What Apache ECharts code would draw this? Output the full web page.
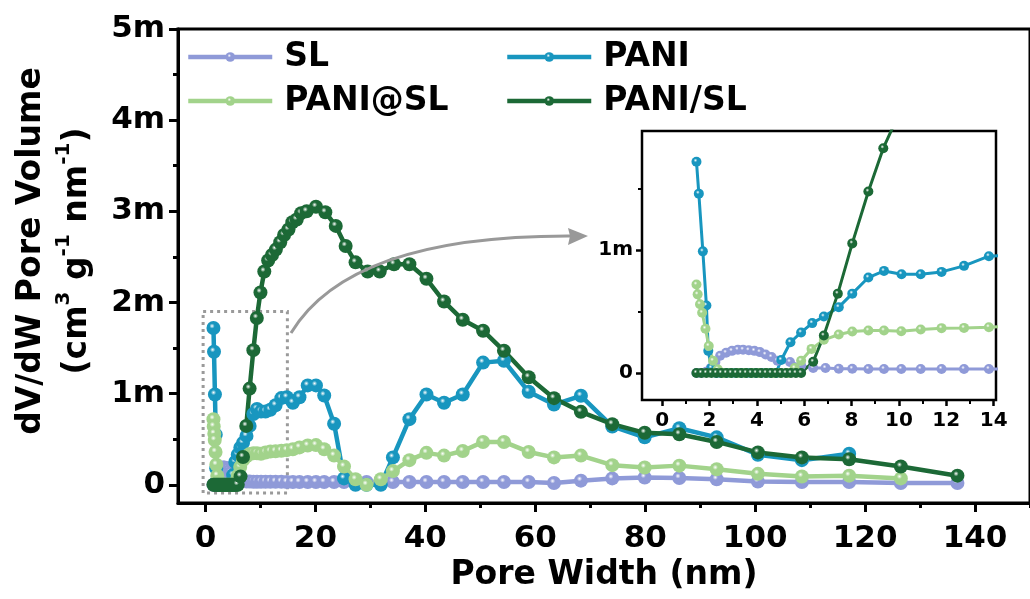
<!DOCTYPE html>
<html>
<head>
<meta charset="utf-8">
<script src="https://cdn.jsdelivr.net/npm/echarts@6/dist/echarts.min.js"></script>
<style>
  html, body { margin: 0; padding: 0; background: #fff; }
  #chart { width: 1030px; height: 599px; }
</style>
</head>
<body>
<div id="chart"></div>
<script>
// pore width (nm) and dV/dW (x1e-3 cm3 g-1 nm-1) for each sample
const slWidth = [1.45, 1.65, 1.86, 2.05, 2.25, 2.45, 2.7, 2.95, 3.2, 3.42, 3.66, 3.9, 4.13, 4.37, 4.62,
  4.87, 5.4, 5.87, 6.38, 6.9, 7.46, 8.03, 8.71, 9.37, 10.1, 10.92, 11.8, 12.75, 13.8, 14.8,
  15.9, 17.1, 18.6, 20.1, 21.6, 23.4, 25.2, 27.3, 29.3, 31.9, 34.1, 37.1, 40.2, 43.4, 46.8,
  50.5, 54.3, 58.8, 63.4, 68.3, 74.0, 79.9, 86.2, 93.0, 100.5, 108.5, 117.1, 126.5, 136.8];
const slVolume = [0, 0, 0.01, 0.04, 0.09, 0.14, 0.165, 0.18, 0.19, 0.19, 0.185, 0.18, 0.17, 0.15, 0.13,
  0.10, 0.09, 0.06, 0.04, 0.04, 0.035, 0.035, 0.033, 0.033, 0.033, 0.033, 0.033, 0.033, 0.033, 0.03,
  0.03, 0.03, 0.03, 0.03, 0.03, 0.03, 0.03, 0.03, 0.03, 0.03, 0.03, 0.03, 0.03, 0.03, 0.03,
  0.03, 0.03, 0.03, 0.02, 0.045, 0.07, 0.08, 0.075, 0.06, 0.035, 0.03, 0.03, 0.02, 0.02];

const paniWidth = [1.45, 1.55, 1.72, 1.87, 1.95, 2.08, 2.29, 2.5, 2.71, 2.92, 3.13, 3.34, 3.55, 3.76, 3.97,
  4.18, 4.39, 4.6, 4.81, 5.03, 5.42, 5.87, 6.34, 6.83, 7.46, 8.03, 8.71, 9.37, 10.11, 10.92,
  11.8, 12.75, 13.8, 14.8, 15.9, 17.1, 18.6, 20.1, 21.6, 23.4, 25.2, 27.3, 29.3, 31.9, 34.1,
  37.1, 40.2, 43.4, 46.8, 50.5, 54.3, 58.8, 63.4, 68.3, 74.0, 79.9, 86.2, 93.0, 100.5, 108.5, 117.1];
const paniVolume = [1.72, 1.46, 0.99, 0.55, 0.18, 0.04, 0, 0, 0, 0, 0, 0, 0, 0, 0,
  0, 0, 0, 0, 0.106, 0.25, 0.33, 0.406, 0.46, 0.536, 0.646, 0.777, 0.831, 0.804, 0.804,
  0.823, 0.872, 0.951, 0.96, 0.9, 0.96, 1.09, 1.09, 0.98, 0.67, 0.07, 0, 0, 0, 0.30,
  0.72, 0.99, 0.90, 0.99, 1.34, 1.36, 1.02, 0.88, 0.976, 0.64, 0.52, 0.62, 0.52, 0.33, 0.27, 0.34];

const paniAtSlWidth = [1.45, 1.5, 1.6, 1.69, 1.83, 1.97, 2.15, 2.35, 2.6, 2.9, 3.2, 3.5, 3.8, 4.1, 4.4,
  4.7, 5.0, 5.3, 5.6, 5.87, 6.31, 6.83, 7.46, 8.03, 8.71, 9.37, 10.1, 10.92, 11.8, 12.75,
  13.8, 14.8, 15.9, 17.1, 18.6, 20.1, 21.6, 23.4, 25.2, 27.3, 29.3, 31.9, 34.1, 37.1, 40.2,
  43.4, 46.8, 50.5, 54.3, 58.8, 63.4, 68.3, 74.0, 79.9, 86.2, 93.0, 100.5, 108.5, 117.1, 126.5];
const paniAtSlVolume = [0.72, 0.64, 0.56, 0.49, 0.36, 0.22, 0.10, 0.03, 0, 0, 0, 0, 0, 0, 0,
  0, 0, 0, 0.04, 0.10, 0.196, 0.27, 0.313, 0.338, 0.346, 0.346, 0.34, 0.354, 0.365, 0.367,
  0.373, 0.38, 0.39, 0.41, 0.43, 0.435, 0.39, 0.32, 0.20, 0.06, 0, 0.06, 0.15, 0.27, 0.35,
  0.32, 0.37, 0.47, 0.47, 0.36, 0.30, 0.32, 0.215, 0.19, 0.21, 0.17, 0.12, 0.09, 0.10, 0.07];

const paniSlWidth = [1.45, 1.66, 1.87, 2.08, 2.29, 2.5, 2.71, 2.92, 3.13, 3.34, 3.55, 3.76, 3.97, 4.18, 4.39,
  4.6, 4.81, 5.02, 5.23, 5.44, 5.65, 5.87, 6.38, 6.83, 7.42, 8.03, 8.71, 9.34, 10.0, 10.7,
  11.4, 12.1, 12.8, 13.6, 14.3, 15.1, 15.8, 16.6, 17.4, 18.4, 20.1, 21.8, 23.7, 25.5, 27.3,
  29.5, 31.7, 34.3, 37.1, 40.2, 43.4, 46.8, 50.5, 54.3, 58.8, 63.4, 68.3, 74.0, 79.9, 86.2,
  93.0, 100.5, 108.5, 117.1, 126.5, 136.8];
const paniSlVolume = [0, 0, 0, 0, 0, 0, 0, 0, 0, 0, 0, 0, 0, 0, 0,
  0, 0, 0, 0, 0, 0, 0, 0.092, 0.305, 0.646, 1.055, 1.477, 1.83, 2.11, 2.34,
  2.46, 2.52, 2.58, 2.66, 2.74, 2.80, 2.88, 2.91, 2.98, 3.00, 3.05, 2.99, 2.84, 2.62, 2.44,
  2.34, 2.34, 2.42, 2.42, 2.26, 2.01, 1.81, 1.69, 1.47, 1.18, 0.95, 0.80, 0.665, 0.57, 0.555,
  0.47, 0.355, 0.30, 0.28, 0.20, 0.10];

// ticks
const mainXTicks = [0, 20, 40, 60, 80, 100, 120, 140];
const mainXMinor = [10, 30, 50, 70, 90, 110, 130, 150];
const mainYTicks = [0, 1, 2, 3, 4, 5];
const mainYMinor = [0.5, 1.5, 2.5, 3.5, 4.5];
const insetXTicks = [0, 2, 4, 6, 8, 10, 12, 14];
const insetXMinor = [1, 3, 5, 7, 9, 11, 13];
const insetYTicks = [0, 1];
const insetYMinor = [0.5, 1.5];

// zoomed region marked in the main plot [x, y] corners
const zoomBox = [[-0.43, 1.9], [14.9, -0.09]];

const samples = [
  {name: 'SL', color: '#8f9ad8', width: slWidth, volume: slVolume},
  {name: 'PANI', color: '#1896bf', width: paniWidth, volume: paniVolume},
  {name: 'PANI@SL', color: '#a2d38b', width: paniAtSlWidth, volume: paniAtSlVolume},
  {name: 'PANI/SL', color: '#1c6936', width: paniSlWidth, volume: paniSlVolume}
];

const chart = echarts.init(document.getElementById('chart'));
const font = 'DejaVu Sans';

const ball = (c) => new echarts.graphic.RadialGradient(0.4, 0.36, 0.62, [
  {offset: 0, color: '#ffffff'},
  {offset: 0.3, color: c},
  {offset: 1, color: c}
]);

const mlabel = v => (v === 0 ? '0' : v + 'm');

// extra axis that only draws the short minor ticks
const tickAxis = (values, len, width, extra) => Object.assign({
  type: 'value',
  axisLine: {show: false, onZero: false},
  axisTick: {show: true, customValues: values, length: len, lineStyle: {color: '#000', width: width}},
  axisLabel: {show: false},
  splitLine: {show: false}
}, extra);

const series = [];
samples.forEach(s => {
  const pts = s.width.map((w, i) => [w, s.volume[i]]);
  series.push({
    name: s.name, type: 'line', xAxisIndex: 0, yAxisIndex: 0,
    data: pts, symbol: 'circle', symbolSize: 14,
    lineStyle: {color: s.color, width: 4.5},
    itemStyle: {color: ball(s.color)},
    emphasis: {disabled: true}
  });
  series.push({
    name: s.name, type: 'line', xAxisIndex: 2, yAxisIndex: 2,
    data: pts, symbol: 'circle', symbolSize: 10, clip: true,
    lineStyle: {color: s.color, width: 3},
    itemStyle: {color: ball(s.color)},
    emphasis: {disabled: true}
  });
});
// dotted box around the zoomed region
series[0].markArea = {
  silent: true,
  itemStyle: {color: 'rgba(0,0,0,0)', borderColor: '#9a9a9a', borderWidth: 3, borderType: [3, 4]},
  data: [[{coord: zoomBox[0]}, {coord: zoomBox[1]}]]
};

const legendText = {fontFamily: font, fontWeight: 'bold', fontSize: 33, lineHeight: 34, color: '#000', padding: [0, 0, 0, 7]};

const option = {
  backgroundColor: '#fff',
  animation: false,
  grid: [
    {left: 172, top: 29, width: 868, height: 474, show: true, borderColor: '#000', borderWidth: 3},
    {left: 642, top: 131, width: 354, height: 269, show: true, borderColor: '#000', borderWidth: 2.5,
      backgroundColor: '#fff'}
  ],
  legend: [
    {data: ['SL', 'PANI@SL'], orient: 'vertical', left: 186, top: 40, itemWidth: 84, itemHeight: 12,
      itemGap: 10, padding: 0, lineStyle: {width: 4.5}, textStyle: legendText},
    {data: ['PANI', 'PANI/SL'], orient: 'vertical', left: 505, top: 40, itemWidth: 84, itemHeight: 12,
      itemGap: 10, padding: 0, lineStyle: {width: 4.5}, textStyle: legendText}
  ],
  xAxis: [
    {type: 'value', gridIndex: 0, min: -5, max: 150, position: 'bottom',
      name: 'Pore Width (nm)', nameLocation: 'middle', nameGap: 56,
      nameTextStyle: {fontFamily: font, fontWeight: 'bold', fontSize: 33, color: '#000'},
      axisLine: {show: true, onZero: false, lineStyle: {color: '#000', width: 3}},
      axisTick: {show: true, customValues: mainXTicks, length: 9, lineStyle: {color: '#000', width: 3}},
      axisLabel: {customValues: mainXTicks, margin: 20, fontFamily: font, fontWeight: 'bold', fontSize: 31, color: '#000'},
      splitLine: {show: false}},
    tickAxis(mainXMinor, 5, 3, {gridIndex: 0, min: -5, max: 150, position: 'bottom'}),
    {type: 'value', gridIndex: 1, min: -0.85, max: 14.1, position: 'bottom',
      axisLine: {show: false, onZero: false},
      axisTick: {show: true, customValues: insetXTicks, length: 6, lineStyle: {color: '#000', width: 2.5}},
      axisLabel: {customValues: insetXTicks, margin: 11, fontFamily: font, fontWeight: 'bold', fontSize: 20, color: '#000'},
      splitLine: {show: false}},
    tickAxis(insetXMinor, 4, 2, {gridIndex: 1, min: -0.85, max: 14.1, position: 'bottom'})
  ],
  yAxis: [
    {type: 'value', gridIndex: 0, min: -0.2, max: 5, position: 'left',
      name: 'dV/dW Pore Volume\n(cm{sup|3} g{sup|-1} nm{sup|-1})', nameLocation: 'middle', nameGap: 78, nameRotate: 90,
      nameTextStyle: {fontFamily: font, fontWeight: 'bold', fontSize: 33, color: '#000', lineHeight: 46,
        padding: [0, 0, 0, 30],
        rich: {sup: {fontFamily: font, fontWeight: 'bold', fontSize: 20, verticalAlign: 'top', color: '#000', lineHeight: 46}}},
      axisLine: {show: true, onZero: false, lineStyle: {color: '#000', width: 3}},
      axisTick: {show: true, customValues: mainYTicks, length: 9, lineStyle: {color: '#000', width: 3}},
      axisLabel: {customValues: mainYTicks, formatter: mlabel, margin: 13, fontFamily: font, fontWeight: 'bold', fontSize: 31, color: '#000'},
      splitLine: {show: false}},
    tickAxis(mainYMinor, 5, 3, {gridIndex: 0, min: -0.2, max: 5, position: 'left'}),
    {type: 'value', gridIndex: 1, min: -0.22, max: 1.97, position: 'left',
      axisLine: {show: false, onZero: false},
      axisTick: {show: true, customValues: insetYTicks, length: 6, lineStyle: {color: '#000', width: 2.5}},
      axisLabel: {customValues: insetYTicks, formatter: mlabel, margin: 9, fontFamily: font, fontWeight: 'bold', fontSize: 20, color: '#000'},
      splitLine: {show: false}},
    tickAxis(insetYMinor, 4, 2, {gridIndex: 1, min: -0.22, max: 1.97, position: 'left'})
  ],
  graphic: [
    {type: 'bezierCurve', z: 10, silent: true,
      shape: {x1: 291, y1: 333, cpx1: 350, cpy1: 235, x2: 572, y2: 236},
      style: {stroke: '#999', lineWidth: 3, fill: null}},
    {type: 'polygon', z: 10, silent: true,
      shape: {points: [[588, 236], [568, 228], [570, 236], [568, 245]]},
      style: {fill: '#999'}}
  ],
  series: series
};

chart.setOption(option);
</script>
</body>
</html>
